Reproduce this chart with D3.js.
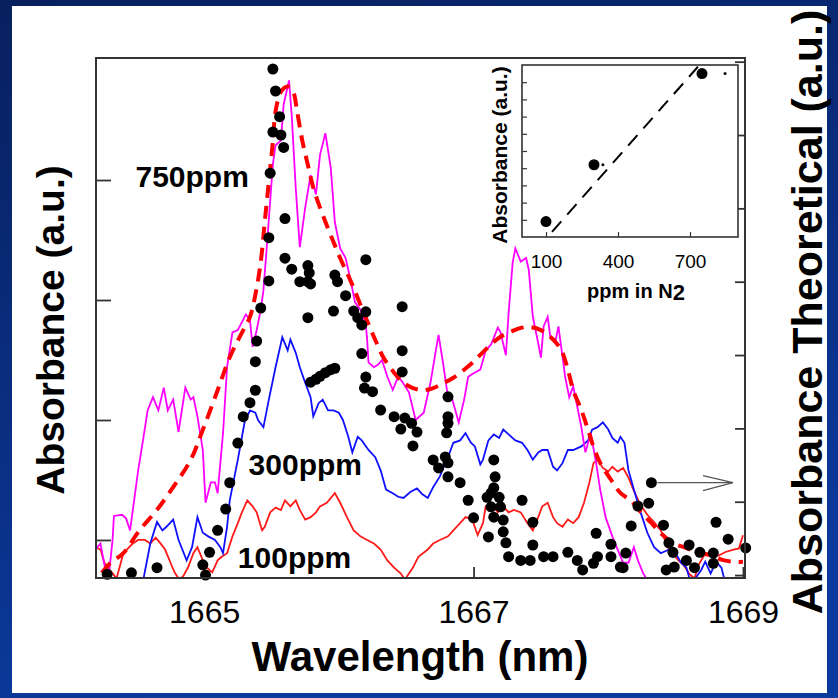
<!DOCTYPE html>
<html>
<head>
<meta charset="utf-8">
<script src="https://cdn.jsdelivr.net/npm/d3@7"></script>
<style>
  body { margin: 0; background: #0a2a78; }
  svg { display: block; }
  text { font-family: "Liberation Sans", Arial, sans-serif; }
</style>
</head>
<body>
<div id="chart"></div>
<script>
// absorption spectra of CO2 around 1666 nm, three concentrations + theory

const svgWidth = 838;
const svgHeight = 698;
const margin = {top: 58, right: 93, bottom: 120, left: 96};
const width = svgWidth - margin.left - margin.right;
const height = svgHeight - margin.top - margin.bottom;

// measured spectra  [wavelength nm, absorbance a.u.]
const spec750 = [[1664.20,-0.07],[1664.23,-0.03],[1664.26,-0.21],[1664.29,-0.32],[1664.32,0],[1664.33,0.20],[1664.39,0.21],[1664.42,0.18],[1664.45,0.08],[1664.48,0.33],[1664.51,0.58],[1664.55,0.86],[1664.58,1.08],[1664.62,1.19],[1664.66,1.08],[1664.70,1.27],[1664.73,1.08],[1664.77,1.17],[1664.81,0.90],[1664.86,1.27],[1664.90,1.17],[1664.92,1.19],[1664.95,1.03],[1664.99,0.75],[1665.01,0.31],[1665.05,0.48],[1665.08,0.48],[1665.10,0.39],[1665.14,0.89],[1665.17,1.44],[1665.21,1.73],[1665.25,1.75],[1665.31,1.88],[1665.34,1.83],[1665.36,1.61],[1665.39,1.75],[1665.42,1.92],[1665.44,2.08],[1665.47,2.52],[1665.51,3.13],[1665.53,3.29],[1665.57,3.33],[1665.59,3.63],[1665.63,3.83],[1665.65,3.54],[1665.68,2.93],[1665.71,2.44],[1665.75,2.77],[1665.79,3.04],[1665.83,2.88],[1665.86,3.21],[1665.90,3.39],[1665.94,3.10],[1665.97,2.65],[1666.01,2.43],[1666.05,2.35],[1666.09,2.15],[1666.12,1.98],[1666.16,1.92],[1666.20,1.79],[1666.21,1.67],[1666.22,1.48],[1666.26,1.44],[1666.29,1.46],[1666.32,1.50],[1666.36,1.36],[1666.40,1.25],[1666.44,1.36],[1666.47,1.32],[1666.52,1.23],[1666.57,1.00],[1666.63,1.06],[1666.68,1.31],[1666.72,1.58],[1666.74,1.71],[1666.77,1.50],[1666.81,1.19],[1666.84,1.18],[1666.89,0.98],[1666.93,1.17],[1666.96,1.36],[1667.00,1.39],[1667.05,1.42],[1667.09,1.58],[1667.13,1.63],[1667.18,1.77],[1667.20,1.73],[1667.24,1.54],[1667.26,1.89],[1667.29,2.31],[1667.31,2.43],[1667.35,2.32],[1667.39,2.35],[1667.41,2.25],[1667.44,1.86],[1667.48,1.64],[1667.50,1.52],[1667.52,1.78],[1667.55,1.86],[1667.57,1.69],[1667.61,1.67],[1667.63,1.78],[1667.66,1.53],[1667.68,1.36],[1667.71,1.19],[1667.74,1.28],[1667.77,1.11],[1667.80,0.94],[1667.83,0.73],[1667.87,0.89],[1667.91,0.64],[1667.94,0.42],[1667.98,0.19],[1668.03,0.03],[1668.07,-0.08],[1668.11,-0.19],[1668.15,-0.19],[1668.19,-0.06],[1668.22,-0.17],[1668.26,-0.28],[1668.30,-0.35]];

const spec300 = [[1664.55,-0.32],[1664.60,-0.03],[1664.65,0.15],[1664.69,0.08],[1664.72,0.11],[1664.77,0.17],[1664.81,0],[1664.87,-0.17],[1664.91,-0.06],[1664.95,0.19],[1664.99,0.06],[1665.03,0.03],[1665.08,0],[1665.12,-0.06],[1665.14,-0.11],[1665.17,0.11],[1665.19,0.33],[1665.25,0.67],[1665.30,0.98],[1665.34,1.08],[1665.38,1.06],[1665.40,1.00],[1665.44,0.94],[1665.48,1.17],[1665.53,1.44],[1665.58,1.69],[1665.62,1.58],[1665.64,1.67],[1665.68,1.56],[1665.71,1.44],[1665.75,1.31],[1665.79,1.19],[1665.81,1.03],[1665.85,1.14],[1665.88,1.17],[1665.92,1.08],[1665.96,1.08],[1666.00,1.06],[1666.03,1.00],[1666.07,0.86],[1666.10,0.73],[1666.14,0.86],[1666.17,0.83],[1666.22,0.75],[1666.27,0.69],[1666.31,0.58],[1666.35,0.42],[1666.40,0.39],[1666.44,0.36],[1666.48,0.35],[1666.53,0.40],[1666.58,0.43],[1666.62,0.38],[1666.66,0.35],[1666.70,0.44],[1666.75,0.53],[1666.81,0.69],[1666.85,0.81],[1666.90,0.83],[1666.94,0.89],[1666.98,0.81],[1667.01,0.78],[1667.05,0.63],[1667.07,0.67],[1667.11,0.83],[1667.15,0.88],[1667.19,0.85],[1667.22,0.92],[1667.26,0.88],[1667.31,0.83],[1667.36,0.81],[1667.40,0.75],[1667.44,0.67],[1667.48,0.73],[1667.51,0.75],[1667.55,0.75],[1667.59,0.61],[1667.62,0.58],[1667.66,0.64],[1667.70,0.75],[1667.74,0.75],[1667.80,0.78],[1667.85,0.83],[1667.88,0.92],[1667.92,0.94],[1667.96,0.98],[1668.00,0.92],[1668.03,0.85],[1668.07,0.81],[1668.09,0.86],[1668.12,0.81],[1668.15,0.58],[1668.19,0.42],[1668.24,0.23],[1668.29,0.06],[1668.34,-0.06],[1668.39,-0.11],[1668.41,-0.10],[1668.45,-0.08],[1668.48,-0.14],[1668.50,-0.11],[1668.54,-0.19],[1668.58,-0.23],[1668.60,-0.31],[1668.64,-0.33],[1668.69,-0.25],[1668.72,-0.18],[1668.76,-0.28],[1668.80,-0.18],[1668.84,-0.23],[1668.86,-0.32],[1668.90,-0.38]];

const spec100 = [[1664.19,-0.06],[1664.23,-0.08],[1664.26,-0.19],[1664.30,-0.25],[1664.35,-0.32],[1664.40,-0.11],[1664.47,-0.03],[1664.51,0],[1664.56,0],[1664.60,-0.03],[1664.64,0.02],[1664.67,-0.02],[1664.71,-0.08],[1664.75,-0.19],[1664.78,-0.27],[1664.81,-0.32],[1664.84,-0.31],[1664.88,-0.23],[1664.92,-0.11],[1664.95,-0.06],[1664.99,-0.17],[1665.02,-0.23],[1665.06,-0.27],[1665.10,-0.17],[1665.13,-0.14],[1665.17,-0.11],[1665.21,0.03],[1665.25,0.14],[1665.28,0.23],[1665.32,0.33],[1665.36,0.28],[1665.39,0.23],[1665.43,0.08],[1665.45,0.11],[1665.49,0.23],[1665.53,0.27],[1665.57,0.25],[1665.60,0.33],[1665.64,0.28],[1665.68,0.33],[1665.71,0.25],[1665.75,0.17],[1665.79,0.19],[1665.83,0.23],[1665.86,0.28],[1665.91,0.31],[1665.97,0.39],[1666.01,0.31],[1666.06,0.19],[1666.11,0.08],[1666.16,0.03],[1666.21,0],[1666.26,-0.03],[1666.31,-0.08],[1666.36,-0.17],[1666.41,-0.23],[1666.46,-0.28],[1666.49,-0.33],[1666.55,-0.23],[1666.59,-0.14],[1666.66,-0.08],[1666.70,-0.03],[1666.75,0],[1666.81,0.03],[1666.85,0.08],[1666.90,0.14],[1666.94,0.19],[1666.99,0.17],[1667.03,0.04],[1667.07,0.14],[1667.09,0.28],[1667.13,0.31],[1667.18,0.23],[1667.22,0.28],[1667.26,0.23],[1667.30,0.25],[1667.35,0.23],[1667.40,0.14],[1667.44,0.08],[1667.48,0.19],[1667.51,0.28],[1667.55,0.31],[1667.59,0.19],[1667.62,0.14],[1667.66,0.11],[1667.70,0.17],[1667.74,0.14],[1667.78,0.19],[1667.82,0.31],[1667.86,0.48],[1667.89,0.64],[1667.92,0.67],[1667.96,0.60],[1668.00,0.57],[1668.03,0.61],[1668.07,0.57],[1668.11,0.60],[1668.15,0.52],[1668.19,0.41],[1668.24,0.29],[1668.29,0.21],[1668.34,0.15],[1668.39,0.08],[1668.45,-0.08],[1668.49,-0.13],[1668.52,-0.17],[1668.56,-0.21],[1668.60,-0.28],[1668.64,-0.32],[1668.67,-0.21],[1668.71,-0.13],[1668.76,-0.11],[1668.82,-0.13],[1668.87,-0.10],[1668.93,-0.08],[1668.97,-0.07],[1669.00,0.04]];

// theoretical spectrum (right axis)
const theory = [[1664.24,0.03],[1664.30,0.16],[1664.40,0.30],[1664.52,0.61],[1664.65,0.89],[1664.77,1.20],[1664.90,1.57],[1664.99,1.98],[1665.10,2.52],[1665.19,2.97],[1665.29,3.34],[1665.34,3.52],[1665.38,3.82],[1665.42,4.27],[1665.45,4.82],[1665.48,5.36],[1665.51,5.91],[1665.53,6.32],[1665.57,6.59],[1665.62,6.66],[1665.66,6.59],[1665.69,6.32],[1665.73,5.91],[1665.77,5.59],[1665.81,5.28],[1665.86,5.01],[1665.91,4.77],[1665.96,4.54],[1666.01,4.32],[1666.09,4.00],[1666.17,3.64],[1666.26,3.25],[1666.33,2.97],[1666.41,2.76],[1666.48,2.62],[1666.55,2.55],[1666.63,2.52],[1666.70,2.55],[1666.78,2.62],[1666.85,2.69],[1666.93,2.80],[1667.00,2.91],[1667.07,3.04],[1667.15,3.18],[1667.20,3.25],[1667.28,3.32],[1667.35,3.37],[1667.42,3.38],[1667.50,3.34],[1667.57,3.25],[1667.65,3.07],[1667.70,2.80],[1667.74,2.52],[1667.80,2.25],[1667.85,1.98],[1667.89,1.75],[1667.94,1.53],[1668.02,1.30],[1668.09,1.12],[1668.17,1.01],[1668.24,0.86],[1668.32,0.71],[1668.39,0.57],[1668.48,0.44],[1668.56,0.38],[1668.67,0.31],[1668.76,0.27],[1668.86,0.20],[1668.96,0.18],[1669.00,0.18]];

// black dots (right axis)
const dots = [[1664.28,0.01],[1664.46,0.03],[1664.65,0.10],[1664.99,0.14],[1665.01,0.00],[1665.04,0.31],[1665.10,0.61],[1665.16,0.90],[1665.19,1.26],[1665.25,1.80],[1665.29,2.16],[1665.34,2.35],[1665.38,2.52],[1665.38,2.91],[1665.39,3.19],[1665.42,3.64],[1665.48,4.01],[1665.48,4.60],[1665.49,5.48],[1665.51,6.04],[1665.51,6.90],[1665.53,6.60],[1665.56,6.25],[1665.57,6.00],[1665.59,5.83],[1665.60,4.86],[1665.60,4.32],[1665.65,4.17],[1665.71,4.00],[1665.77,4.00],[1665.77,4.22],[1665.78,4.12],[1665.79,3.97],[1665.77,3.51],[1665.96,3.60],[1665.97,4.09],[1665.99,4.00],[1666.05,3.81],[1666.11,3.60],[1666.14,3.51],[1666.17,3.41],[1666.20,3.59],[1666.20,4.30],[1665.79,2.63],[1665.83,2.67],[1665.86,2.71],[1665.90,2.76],[1665.94,2.80],[1665.97,2.82],[1666.47,3.66],[1666.47,3.06],[1666.47,2.77],[1666.17,3.02],[1666.20,2.70],[1666.19,2.55],[1666.25,2.50],[1666.31,2.25],[1666.41,2.16],[1666.49,2.14],[1666.46,1.99],[1666.54,2.07],[1666.58,1.95],[1666.55,1.76],[1666.81,2.43],[1666.81,2.16],[1666.81,2.07],[1666.80,1.94],[1666.70,1.57],[1666.74,1.46],[1666.79,1.61],[1666.81,1.53],[1666.81,1.34],[1666.90,1.26],[1666.96,1.02],[1667.00,0.78],[1667.11,0.52],[1667.15,1.57],[1667.16,1.34],[1667.15,1.19],[1667.13,1.12],[1667.10,1.06],[1667.19,1.06],[1667.13,0.93],[1667.20,0.93],[1667.15,0.79],[1667.22,0.75],[1667.22,0.59],[1667.24,0.44],[1667.26,0.25],[1667.35,0.20],[1667.42,0.20],[1667.44,0.41],[1667.44,0.72],[1667.36,1.02],[1667.52,0.25],[1667.59,0.25],[1667.70,0.31],[1667.77,0.20],[1667.81,0.07],[1667.89,0.16],[1667.92,0.25],[1667.91,0.57],[1668.02,0.42],[1668.02,0.25],[1668.09,0.11],[1668.13,0.30],[1668.11,0.10],[1668.17,0.67],[1668.22,0.94],[1668.30,0.98],[1668.32,1.26],[1668.41,0.68],[1668.45,0.44],[1668.48,0.31],[1668.49,0.11],[1668.43,0.07],[1668.60,0.41],[1668.58,0.20],[1668.64,0.10],[1668.68,0.31],[1668.78,0.30],[1668.78,0.16],[1668.80,0.72],[1668.89,0.49],[1669.02,0.37]];

const arrowFrom = [1668.32, 1.26];

const xTicks = [1665, 1667, 1669];
const leftTicks = [0, 1, 2, 3];
const rightTicks = [0, 1, 2, 3, 4, 5, 6, 7];

const concLabels = [
  {text: "750ppm", nm: 1664.49, a: 2.94},
  {text: "300ppm", nm: 1665.33, a: 0.54},
  {text: "100ppm", nm: 1665.25, a: -0.23}
];

// inset: peak absorbance vs concentration
const insetPpm = [100, 300, 750];
const insetAbs = [0.09, 0.42, 0.95];
const insetSmallPpm = [337, 846];
const insetSmallAbs = [0.42, 0.95];
const insetFit = [[125, 0.03], [733, 0.99]];
const insetXTicks = [100, 400, 700];
const insetYTicks = [0.1, 0.2, 0.3, 0.4, 0.5, 0.6, 0.7, 0.8, 0.9];

const svg = d3.select("#chart").append("svg")
  .attr("width", svgWidth)
  .attr("height", svgHeight);

// slide background
const defs = svg.append("defs");
const grad = defs.append("linearGradient").attr("id", "bg")
  .attr("x1", "0").attr("y1", "0").attr("x2", "0.3").attr("y2", "1");
grad.append("stop").attr("offset", "0").attr("stop-color", "#08205e");
grad.append("stop").attr("offset", "1").attr("stop-color", "#0b3a9e");
svg.append("rect").attr("width", svgWidth).attr("height", svgHeight).attr("fill", "url(#bg)");
svg.append("rect").attr("x", 12).attr("y", 6).attr("width", 815).attr("height", 687).attr("fill", "#fff");

defs.append("clipPath").attr("id", "plotclip")
  .append("rect").attr("width", width).attr("height", height);

const g = svg.append("g").attr("transform", "translate(" + margin.left + "," + margin.top + ")");

const x = d3.scaleLinear().domain([1664.197, 1669.015]).range([0, width]);
const yL = d3.scaleLinear().domain([-0.317, 4.017]).range([height, 0]);
const yR = d3.scaleLinear().domain([-0.04, 7.05]).range([height, 0]);

// axes (ticks point inward)
g.append("g").attr("class", "axis")
  .call(d3.axisLeft(yL).tickValues(leftTicks).tickSize(-15).tickFormat(""));
g.append("g").attr("class", "axis").attr("transform", "translate(" + width + ",0)")
  .call(d3.axisRight(yR).tickValues(rightTicks).tickSize(-10).tickFormat(""));
g.append("g").attr("class", "axis xaxis").attr("transform", "translate(0," + height + ")")
  .call(d3.axisBottom(x).tickValues(xTicks).tickSize(-11).tickPadding(22).tickFormat(d3.format("d")));
g.selectAll(".axis .domain").remove();
g.selectAll(".axis line").attr("stroke", "#333").attr("stroke-width", 1.8);
g.selectAll(".xaxis text").attr("font-size", 32).attr("fill", "#000")
  .style("font-family", "'Liberation Sans', Arial, sans-serif");

// spectra
const lineL = d3.line().x(d => x(d[0])).y(d => yL(d[1]));
const lineR = d3.line().x(d => x(d[0])).y(d => yR(d[1])).curve(d3.curveCatmullRom.alpha(0.5));

const plot = g.append("g").attr("clip-path", "url(#plotclip)");
plot.append("path").datum(spec100).attr("d", lineL)
  .attr("fill", "none").attr("stroke", "#ff1a1a").attr("stroke-width", 1.8);
plot.append("path").datum(spec300).attr("d", lineL)
  .attr("fill", "none").attr("stroke", "#1010ff").attr("stroke-width", 1.8);
plot.append("path").datum(spec750).attr("d", lineL)
  .attr("fill", "none").attr("stroke", "#ff00ff").attr("stroke-width", 1.8);
plot.append("path").datum(theory).attr("d", lineR)
  .attr("fill", "none").attr("stroke", "#ff0000").attr("stroke-width", 4)
  .attr("stroke-dasharray", "13,8");

g.selectAll(".dot").data(dots).join("circle")
  .attr("class", "dot")
  .attr("cx", d => x(d[0])).attr("cy", d => yR(d[1])).attr("r", 5.5)
  .attr("fill", "#000");

// arrow to the right axis
const ay = yR(arrowFrom[1]);
const tip = x(1669) - 10;
g.append("line").attr("x1", x(arrowFrom[0]) + 6).attr("x2", tip).attr("y1", ay).attr("y2", ay)
  .attr("stroke", "#555").attr("stroke-width", 1.2);
g.append("path").attr("d", "M" + (tip - 30) + "," + (ay - 7) + "L" + tip + "," + ay + "L" + (tip - 30) + "," + (ay + 8))
  .attr("fill", "none").attr("stroke", "#555").attr("stroke-width", 1.2);

// frame
g.append("rect").attr("width", width).attr("height", height)
  .attr("fill", "none").attr("stroke", "#333").attr("stroke-width", 2);

// concentration labels
g.selectAll(".conc").data(concLabels).join("text")
  .attr("class", "conc")
  .attr("x", d => x(d.nm)).attr("y", d => yL(d.a))
  .attr("font-size", 30).attr("font-weight", "bold").attr("fill", "#000")
  .text(d => d.text);

// inset
const inset = {left: 522, top: 65, w: 216, h: 172};
const ig = svg.append("g").attr("transform", "translate(" + inset.left + "," + inset.top + ")");
const ix = d3.scaleLinear().domain([0, 900]).range([0, inset.w]);
const iy = d3.scaleLinear().domain([0, 1]).range([inset.h, 0]);

ig.append("rect").attr("width", inset.w).attr("height", inset.h).attr("fill", "#fff");
ig.append("g").attr("class", "iaxis")
  .call(d3.axisLeft(iy).tickValues(insetYTicks).tickSize(-5).tickFormat(""));
ig.append("g").attr("class", "iaxis").attr("transform", "translate(0," + inset.h + ")")
  .call(d3.axisBottom(ix).tickValues(insetXTicks).tickSize(-5).tickPadding(18).tickFormat(d3.format("d")));
ig.selectAll(".iaxis .domain").remove();
ig.selectAll(".iaxis line").attr("stroke", "#333").attr("stroke-width", 1.2);
ig.selectAll(".iaxis text").attr("font-size", 19).attr("fill", "#000")
  .style("font-family", "'Liberation Sans', Arial, sans-serif");

ig.append("path").datum(insetFit)
  .attr("d", d3.line().x(d => ix(d[0])).y(d => iy(d[1])))
  .attr("fill", "none").attr("stroke", "#000").attr("stroke-width", 2)
  .attr("stroke-dasharray", "14,9");
ig.selectAll(".ipt").data(insetPpm).join("circle")
  .attr("class", "ipt")
  .attr("cx", d => ix(d)).attr("cy", (d, i) => iy(insetAbs[i])).attr("r", 5.5)
  .attr("fill", "#000");
ig.selectAll(".ismall").data(insetSmallPpm).join("circle")
  .attr("class", "ismall")
  .attr("cx", d => ix(d)).attr("cy", (d, i) => iy(insetSmallAbs[i])).attr("r", 1.5)
  .attr("fill", "#000");
ig.append("rect").attr("width", inset.w).attr("height", inset.h)
  .attr("fill", "none").attr("stroke", "#333").attr("stroke-width", 1.6);

const xl = ig.append("text")
  .attr("x", inset.w / 2 + 6).attr("y", inset.h + 61)
  .attr("text-anchor", "middle").attr("font-size", 20).attr("font-weight", "bold")
  .text("ppm in N");
xl.append("tspan").attr("dy", 2).attr("font-size", 22).text("2");

ig.append("text")
  .attr("transform", "translate(-15," + (inset.h / 2 + 4) + ") rotate(-90)")
  .attr("text-anchor", "middle").attr("font-size", 21).attr("font-weight", "bold")
  .text("Absorbance (a.u.)");

// axis titles
svg.append("text")
  .attr("transform", "translate(64,330) rotate(-90)")
  .attr("text-anchor", "middle").attr("font-size", 39).attr("font-weight", "bold")
  .text("Absorbance (a.u.)");
svg.append("text")
  .attr("transform", "translate(822,312) rotate(-90)")
  .attr("text-anchor", "middle").attr("font-size", 43).attr("font-weight", "bold")
  .text("Absorbance Theoretical (a.u.)");
svg.append("text")
  .attr("x", 420).attr("y", 671)
  .attr("text-anchor", "middle").attr("font-size", 42).attr("font-weight", "bold")
  .text("Wavelength (nm)");
</script>
</body>
</html>
